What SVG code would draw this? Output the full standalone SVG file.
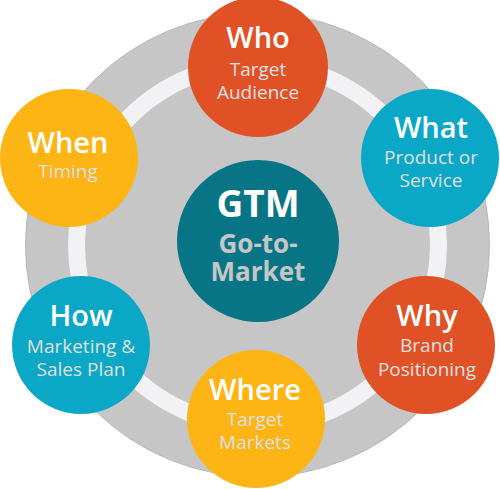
<svg xmlns="http://www.w3.org/2000/svg" width="500" height="489" viewBox="0 0 500 489">
<style>
.t{font-family:"Open Sans","Liberation Sans",sans-serif;text-anchor:middle;fill:#ffffff;font-weight:600;font-size:29px}
.s{font-family:"Open Sans","Liberation Sans",sans-serif;text-anchor:middle;fill:#e0e0e0;font-weight:400;font-size:19px}
.g{font-family:"Open Sans","Liberation Sans",sans-serif;text-anchor:middle;font-weight:700}
.or{fill:#e05126}.cy{fill:#0aa8c6}.ye{fill:#fdb415}
</style>
<rect width="500" height="489" fill="#ffffff"/>
<g id="background">
<circle cx="257.5" cy="245" r="232" fill="#c6c6c6" stroke="#b8b8b8" stroke-width="1"/>
<circle cx="257.5" cy="245" r="181" fill="none" stroke="#f2f2f4" stroke-width="17"/>
</g>
<g id="connectors"></g>
<g id="center">
<circle cx="258" cy="241" r="81" fill="#077585"/>
<text class="g" x="258" y="217" font-size="37" fill="#ffffff">GTM</text>
<text class="g" x="258" y="253" font-size="26" fill="#c6c6c6">Go-to-</text>
<text class="g" x="258" y="281" font-size="26" fill="#c6c6c6">Market</text>
</g>
<g id="who">
<circle class="or" cx="258" cy="67" r="70"/>
<text class="t" x="258" y="48">Who</text>
<text class="s" x="258" y="76">Target</text>
<text class="s" x="258" y="99">Audience</text>
</g>
<g id="what">
<circle class="cy" cx="430" cy="158" r="69"/>
<text class="t" x="431" y="138">What</text>
<text class="s" x="431" y="164">Product or</text>
<text class="s" x="431" y="187">Service</text>
</g>
<g id="why">
<circle class="or" cx="426" cy="345" r="69"/>
<text class="t" x="427" y="326">Why</text>
<text class="s" x="427" y="352">Brand</text>
<text class="s" x="427" y="376">Positioning</text>
</g>
<g id="where">
<circle class="ye" cx="256" cy="419" r="69"/>
<text class="t" x="255" y="400">Where</text>
<text class="s" x="255" y="426">Target</text>
<text class="s" x="255" y="449">Markets</text>
</g>
<g id="how">
<circle class="cy" cx="81" cy="345" r="69"/>
<text class="t" x="81" y="326">How</text>
<text class="s" x="81" y="353">Marketing &amp;</text>
<text class="s" x="81" y="376">Sales Plan</text>
</g>
<g id="when">
<circle class="ye" cx="69" cy="158" r="69"/>
<text class="t" x="68" y="153">When</text>
<text class="s" x="68" y="178">Timing</text>
</g>
</svg>
